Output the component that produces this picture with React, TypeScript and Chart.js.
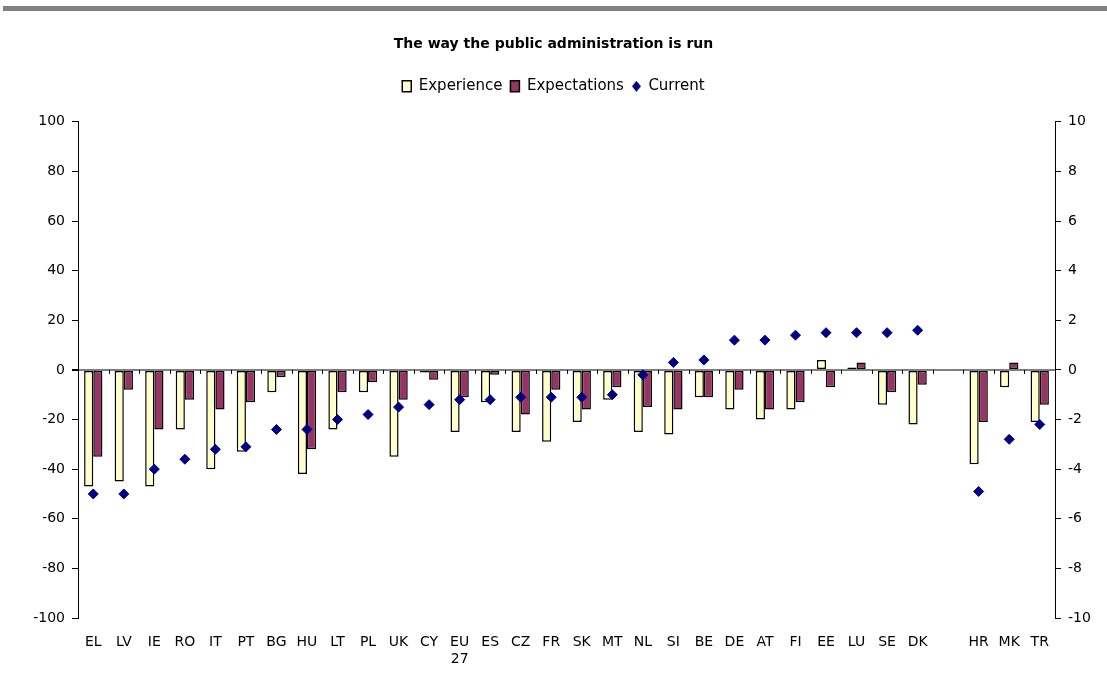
import React, { useEffect, useRef } from "react";
import { Chart, registerables } from "chart.js";

Chart.register(...registerables);

const categories: (string | string[])[] = [
  "EL", "LV", "IE", "RO", "IT", "PT", "BG", "HU", "LT", "PL", "UK", "CY", ["EU", "27"], "ES", "CZ", "FR",
  "SK", "MT", "NL", "SI", "BE", "DE", "AT", "FI", "EE", "LU", "SE", "DK", "", "HR", "MK", "TR",
];

const experience: (number | null)[] = [
  -47, -45, -47, -24, -40, -33, -9, -42, -24, -9, -35, -1, -25, -13, -25, -29,
  -21, -12, -25, -26, -11, -16, -20, -16, 4, 1, -14, -22, null, -38, -7, -21,
];

const expectations: (number | null)[] = [
  -35, -8, -24, -12, -16, -13, -3, -32, -9, -5, -12, -4, -11, -2, -18, -8,
  -16, -7, -15, -16, -11, -8, -16, -13, -7, 3, -9, -6, null, -21, 3, -14,
];

const current: (number | null)[] = [
  -5.0, -5.0, -4.0, -3.6, -3.2, -3.1, -2.4, -2.4, -2.0, -1.8, -1.5, -1.4, -1.2, -1.2, -1.1, -1.1,
  -1.1, -1.0, -0.2, 0.3, 0.4, 1.2, 1.2, 1.4, 1.5, 1.5, 1.5, 1.6, null, -4.9, -2.8, -2.2,
];

const leftTicks = { min: -100, max: 100, step: 20 };
const rightTicks = { min: -10, max: 10, step: 2 };

const FONT = '"DejaVu Sans", Verdana, sans-serif';

const PAD_LEFT = 10;
const PAD_RIGHT = 10;
const PAD_BOTTOM = 10;
const AXIS_LEFT_X = 78;
const AXIS_RIGHT_X = 1055;
const PLOT_BOTTOM = 618;
const LEGEND_EXTRA = 18;

function makeDiamond(): HTMLCanvasElement {
  const c = document.createElement("canvas");
  c.width = 9;
  c.height = 11;
  const g = c.getContext("2d")!;
  g.fillStyle = "#000080";
  g.beginPath();
  g.moveTo(4.5, 0);
  g.lineTo(9, 5.5);
  g.lineTo(4.5, 11);
  g.lineTo(0, 5.5);
  g.closePath();
  g.fill();
  return c;
}

const legendSpacer = {
  id: "legendSpacer",
  beforeInit(chart: any) {
    const legend = chart.legend;
    if (!legend) return;
    const orig = legend.fit.bind(legend);
    legend.fit = function () {
      orig();
      this.height += LEGEND_EXTRA;
    };
  },
};

const categoryTicks = {
  id: "categoryTicks",
  afterDatasetsDraw(chart: any) {
    const xs = chart.scales.x;
    const ys = chart.scales.y;
    const y0 = ys.getPixelForValue(0);
    const ctx = chart.ctx;
    ctx.save();
    ctx.strokeStyle = "#000";
    ctx.lineWidth = 1;
    ctx.beginPath();
    for (let i = 1; i < categories.length; i++) {
      const px = Math.round(xs.getPixelForValue(i - 0.5)) + 0.5;
      ctx.moveTo(px, y0);
      ctx.lineTo(px, y0 + 4);
    }
    ctx.stroke();
    ctx.restore();
  },
};

export default function App() {
  const ref = useRef<HTMLCanvasElement>(null);

  useEffect(() => {
    if (!ref.current) return;
    const diamond = makeDiamond();
    const chart = new Chart(ref.current, {
      type: "bar",
      data: {
        labels: categories as any,
        datasets: [
          {
            label: "Experience",
            data: experience,
            backgroundColor: "#FFFFCC",
            borderColor: "#000000",
            borderWidth: 1.5,
            borderSkipped: false,
            pointStyle: "rect",
            yAxisID: "y",
            order: 1,
          } as any,
          {
            label: "Expectations",
            data: expectations,
            backgroundColor: "#993366",
            borderColor: "#000000",
            borderWidth: 1.5,
            borderSkipped: false,
            pointStyle: "rect",
            yAxisID: "y",
            order: 2,
          } as any,
          {
            type: "line",
            label: "Current",
            data: current,
            showLine: false,
            pointStyle: "rectRot",
            pointRadius: 5,
            pointHoverRadius: 5,
            backgroundColor: "#000080",
            borderColor: "#000080",
            borderWidth: 1,
            yAxisID: "y1",
            order: 0,
          } as any,
        ],
      },
      options: {
        animation: false,
        responsive: false,
        maintainAspectRatio: false,
        layout: { padding: { top: 0, left: PAD_LEFT, right: PAD_RIGHT, bottom: PAD_BOTTOM } },
        datasets: {
          bar: { categoryPercentage: 0.6, barPercentage: 1.0 },
        },
        plugins: {
          title: {
            display: true,
            text: "The way the public administration is run",
            color: "#000",
            font: { family: FONT, size: 14, weight: "bold" },
            padding: { top: 36, bottom: 18 },
          },
          legend: {
            display: true,
            position: "top",
            labels: {
              color: "#000",
              font: { family: FONT, size: 15 },
              usePointStyle: true,
              boxHeight: 11,
              pointStyleWidth: 9,
              padding: 8,
              sort: (a: any, b: any) => a.datasetIndex - b.datasetIndex,
              generateLabels: (chart: any) => {
                const items = Chart.defaults.plugins.legend.labels.generateLabels(chart);
                items.forEach((it: any) => {
                  if (it.text === "Current") {
                    it.pointStyle = diamond;
                  } else {
                    it.pointStyle = "rect";
                    it.strokeStyle = "#000";
                    it.lineWidth = 1.5;
                  }
                });
                return items;
              },
            },
          },
          tooltip: { enabled: false },
        },
        scales: {
          x: {
            position: "bottom",
            grid: { display: false },
            border: { display: false },
            ticks: {
              color: "#000",
              font: { family: FONT, size: 14 },
              padding: 8,
              maxRotation: 0,
              autoSkip: false,
            },
            afterFit: (s: any) => {
              s.height = 691 - PLOT_BOTTOM - PAD_BOTTOM;
            },
          },
          y: {
            position: "left",
            min: leftTicks.min,
            max: leftTicks.max,
            ticks: {
              stepSize: leftTicks.step,
              color: "#000",
              font: { family: FONT, size: 14 },
              padding: 7,
            },
            grid: {
              drawOnChartArea: true,
              color: (c: any) => (c.tick && c.tick.value === 0 ? "#808080" : "rgba(0,0,0,0)"),
              lineWidth: (c: any) => (c.tick && c.tick.value === 0 ? 2 : 1),
              tickColor: "#000",
              tickLength: 6,
            },
            border: { display: true, color: "#000", width: 1 },
            afterFit: (s: any) => {
              s.width = AXIS_LEFT_X - PAD_LEFT;
            },
          },
          y1: {
            position: "right",
            min: rightTicks.min,
            max: rightTicks.max,
            ticks: {
              stepSize: rightTicks.step,
              color: "#000",
              font: { family: FONT, size: 14 },
              padding: 7,
            },
            grid: {
              drawOnChartArea: false,
              tickColor: "#000",
              tickLength: 6,
            },
            border: { display: true, color: "#000", width: 1 },
            afterFit: (s: any) => {
              s.width = 1107 - AXIS_RIGHT_X - PAD_RIGHT;
            },
          },
        },
      },
      plugins: [legendSpacer, categoryTicks],
    });
    return () => chart.destroy();
  }, []);

  return (
    <div style={{ position: "fixed", left: 0, top: 0, width: 1107, height: 691, background: "#fff" }}>
      <canvas ref={ref} width={1107} height={691} style={{ width: 1107, height: 691, display: "block" }} />
      <div
        style={{ position: "absolute", left: 3, top: 6, width: 1104, height: 5, background: "#808080" }}
      />
    </div>
  );
}
